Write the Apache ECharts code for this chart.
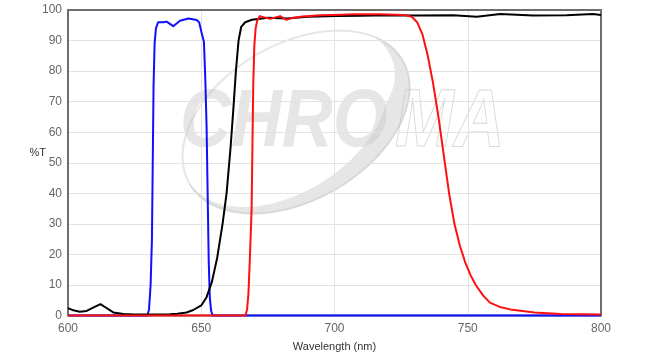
<!DOCTYPE html>
<html>
<head>
<meta charset="utf-8">
<script src="https://cdn.jsdelivr.net/npm/echarts@6/dist/echarts.min.js"></script>
<style>html,body{margin:0;padding:0;background:#fff}#c{width:652px;height:354px}</style>
</head>
<body>
<div id="c"></div>
<script>
var xTicks = [600, 650, 700, 750, 800];
var yTicks = [0, 10, 20, 30, 40, 50, 60, 70, 80, 90, 100];

var blueX = [600, 629.8, 630.4, 631, 631.5, 631.8, 632.1, 632.5, 633, 633.8, 635.8, 637, 639.5, 642, 645.2, 648.3, 649.2, 650.2, 651, 651.5, 652, 652.4, 652.8, 653.2, 653.7, 654.3, 660, 800];
var blueY = [0, 0, 2, 10, 25, 50, 75, 89, 94, 96, 96, 96.2, 94.7, 96.5, 97.2, 96.7, 96, 92.3, 89.6, 78, 62, 40, 18, 6, 1.5, 0, 0, 0];

var blackX = [600, 602, 604.4, 607, 610, 612.2, 614, 617, 620.8, 625, 630, 635, 638.3, 641, 644.5, 647, 650, 652, 654, 656, 658, 659.5, 661, 662, 663, 664, 665, 666.5, 669, 675, 682, 690, 700.8, 710, 719.6, 730, 744.6, 753.4, 762.2, 774.5, 787, 797, 800];
var blackY = [2.4, 1.7, 1.2, 1.5, 2.8, 3.7, 2.7, 1.0, 0.5, 0.3, 0.3, 0.35, 0.4, 0.6, 1.0, 1.8, 3.3, 6, 11, 19, 30, 40, 55, 67, 80, 90, 94.5, 96, 96.8, 97.5, 97.2, 97.8, 98, 98.1, 98.3, 98.2, 98.3, 97.8, 98.7, 98.2, 98.3, 98.7, 98.4];

var redX = [600, 666.6, 667.2, 667.7, 668.3, 668.9, 669.2, 669.5, 669.9, 670.4, 671, 672, 675.8, 679.6, 682, 684.5, 688, 694.6, 700, 707, 717, 726, 729, 731, 733, 735, 737, 739, 741, 743, 745, 747, 749, 751, 753, 755.8, 758.3, 762, 766, 775, 785, 800];
var redY = [0, 0, 2, 7, 20, 35, 55, 75, 88, 94, 96.5, 98, 97.1, 98, 96.8, 97.5, 97.9, 98.3, 98.4, 98.6, 98.6, 98.4, 97.8, 96, 92, 85, 76, 65, 52.5, 40, 30, 23, 17.5, 13.3, 10, 6.5, 4.2, 2.8, 2, 1, 0.5, 0.3];

function pairs(xs, ys) { return xs.map(function (x, i) { return [x, ys[i]]; }); }

// decorative watermark swoosh, drawn in a local rotated frame
function ringPoints(a, b, n) {
  var out = [];
  for (var i = 0; i <= n; i++) {
    var t = Math.PI * 2 * i / n;
    out.push([a * Math.cos(t), b * Math.sin(t)]);
  }
  return out;
}
function crescentPoints(a, b, t0, t1, tPeak, wMax, n) {
  var outer = [], inner = [];
  for (var i = 0; i <= n; i++) {
    var t = t0 + (t1 - t0) * i / n;
    var w = t < tPeak ? wMax * (t - t0) / (tPeak - t0) : wMax * (t1 - t) / (t1 - tPeak);
    outer.push([(a + 1) * Math.cos(t), (b + 1) * Math.sin(t)]);
    inner.push([(a - w) * Math.cos(t), (b - w) * Math.sin(t)]);
  }
  return outer.concat(inner.reverse());
}
var ringPts = ringPoints(123, 78, 120);
var crescentPts = crescentPoints(123, 78, -0.45, Math.PI, 0.55, 22, 120);

var chart = echarts.init(document.getElementById('c'));
var wm = 'rgba(200,200,200,0.45)';
var ff = 'Arial, "Liberation Sans", sans-serif';
chart.setOption({
  animation: false,
  backgroundColor: '#fff',
  grid: { left: 68, right: 51, top: 10, bottom: 38.5, show: true, borderColor: '#6e6e6e', borderWidth: 2, backgroundColor: 'transparent', z: 3, containLabel: false, outerBoundsMode: 'none' },
  graphic: [
    { type: 'group', x: 296, y: 122, rotation: Math.PI / 6, z: 1, children: [
      { type: 'polyline', shape: { points: ringPts }, style: { fill: null, stroke: wm, lineWidth: 2 } },
      { type: 'polygon', shape: { points: crescentPts }, style: { fill: wm } }
    ]},
    { type: 'group', x: 180, y: 123, scaleX: 0.86, z: 1, children: [
      { type: 'text', x: 0, y: 0, style: { text: 'CHRO', font: 'italic bold 82px ' + ff, fill: wm, verticalAlign: 'middle', align: 'left' } },
      { type: 'text', x: 250, y: 0, style: { text: 'MA', font: 'italic bold 82px ' + ff, fill: null, stroke: 'rgba(190,190,190,0.6)', lineWidth: 1, verticalAlign: 'middle', align: 'left' } }
    ]}
  ],
  xAxis: {
    type: 'value', min: 600, max: 800, interval: 50,
    name: 'Wavelength (nm)', nameLocation: 'middle', nameGap: 26,
    nameTextStyle: { color: '#333', fontSize: 11, fontFamily: ff },
    axisLine: { show: false }, axisTick: { show: false },
    axisLabel: { color: '#666', fontSize: 12, margin: 7, fontFamily: ff,
      formatter: function (v) { return xTicks.indexOf(v) >= 0 ? String(v) : ''; } },
    splitLine: { show: true, lineStyle: { color: '#e3e3e3', width: 1 } }
  },
  yAxis: {
    type: 'value', min: 0, max: 100, interval: 10,
    name: '%T', nameLocation: 'middle', nameGap: 22, nameRotate: 0, nameMoveOverlap: false,
    nameTextStyle: { color: '#333', fontSize: 11, fontFamily: ff, verticalAlign: 'bottom', align: 'right', padding: [0, 0, 4, 0] },
    axisLine: { show: false }, axisTick: { show: false },
    axisLabel: { color: '#666', fontSize: 12, margin: 6, fontFamily: ff,
      formatter: function (v) { return yTicks.indexOf(v) >= 0 ? String(v) : ''; } },
    splitLine: { show: true, lineStyle: { color: '#e3e3e3', width: 1 } }
  },
  series: [
    { type: 'line', data: pairs(blueX, blueY), showSymbol: false, clip: false, z: 4, lineStyle: { color: '#1010ff', width: 2, join: 'round' } },
    { type: 'line', data: pairs(blackX, blackY), showSymbol: false, clip: false, z: 5, lineStyle: { color: '#000', width: 2, join: 'round' } },
    { type: 'line', data: pairs(redX, redY), showSymbol: false, clip: false, z: 6, lineStyle: { color: '#ff1010', width: 2, join: 'round' } }
  ]
});
</script>
</body>
</html>
